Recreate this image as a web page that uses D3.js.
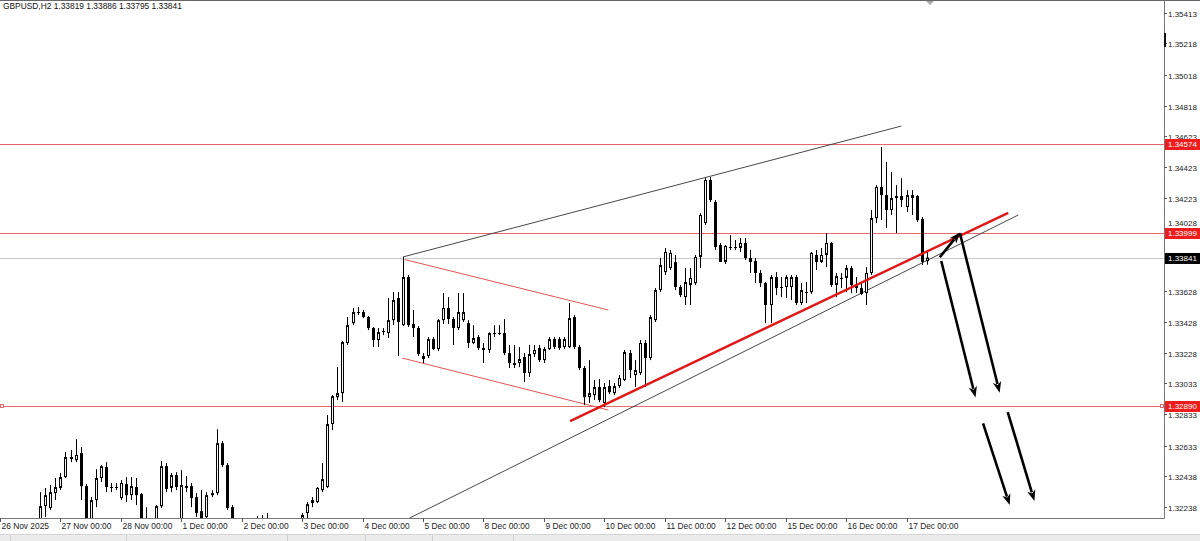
<!DOCTYPE html>
<html><head><meta charset="utf-8">
<script src="https://cdn.jsdelivr.net/npm/d3@7/dist/d3.min.js"></script>
<style>
html,body{margin:0;padding:0;background:#fff;overflow:hidden;}
svg{display:block;}
text{font-family:"Liberation Sans",Arial,sans-serif;font-size:8px;}
</style></head><body>
<svg id="c" width="1200" height="541"></svg>
<script>
// ---------- DATA ----------
const chartTitle = "GBPUSD,H2  1.33819 1.33886 1.33795 1.33841";

const opens = [1.32025,1.32051,1.32076,1.32038,1.32089,1.32063,1.32102,1.32115,1.32121,1.32243,
1.32231,1.32327,1.32360,1.32430,1.32559,1.32539,1.32585,1.32372,1.32128,1.32282,
1.32424,1.32494,1.32366,1.32360,1.32295,1.32385,1.32314,1.32366,1.32320,1.32121,
1.32089,1.32121,1.32243,1.32500,1.32360,1.32443,1.32121,1.32372,1.32372,1.32301,
1.32211,1.32173,1.32314,1.32327,1.32648,1.32507,1.32237,1.32121,1.32057,1.32025,
1.32076,1.32089,1.32102,1.32115,1.32089,1.32063,1.32089,1.32076,1.32102,1.32115,
1.32153,1.32199,1.32263,1.32269,1.32346,1.32366,1.32771,1.32944,1.32970,1.33292,
1.33420,1.33491,1.33491,1.33459,1.33388,1.33311,1.33362,1.33356,1.33439,1.33581,
1.33407,1.33716,1.33414,1.33388,1.33189,1.33208,1.33317,1.33253,1.33439,1.33517,
1.33446,1.33388,1.33439,1.33420,1.33292,1.33330,1.33260,1.33247,1.33356,1.33356,
1.33356,1.33227,1.33163,1.33163,1.33202,1.33099,1.33221,1.33260,1.33182,1.33253,
1.33317,1.33317,1.33266,1.33266,1.33459,1.33266,1.33131,1.32944,1.32957,1.33009,
1.32906,1.33015,1.32970,1.33015,1.33054,1.33227,1.33086,1.33099,1.33292,1.33195,
1.33439,1.33632,1.33748,1.33774,1.33812,1.33652,1.33587,1.33665,1.33677,1.33845,
1.34063,1.34340,1.34198,1.33922,1.33813,1.33909,1.33909,1.33903,1.33935,1.33838,
1.33819,1.33742,1.33677,1.33536,1.33716,1.33652,1.33652,1.33652,1.33716,1.33549,
1.33619,1.33619,1.33858,1.33813,1.33858,1.33935,1.33665,1.33710,1.33710,1.33774,
1.33665,1.33645,1.33613,1.33742,1.34095,1.34295,1.34243,1.34147,1.34224,1.34237,
1.34166,1.34243,1.34237,1.34089,1.33819];

const highs = [1.32089,1.32102,1.32115,1.32096,1.32128,1.32121,1.32140,1.32166,1.32333,1.32360,
1.32379,1.32424,1.32456,1.32591,1.32604,1.32674,1.32623,1.32385,1.32301,1.32481,
1.32507,1.32526,1.32392,1.32392,1.32411,1.32430,1.32430,1.32424,1.32327,1.32237,
1.32153,1.32250,1.32533,1.32520,1.32456,1.32462,1.32475,1.32436,1.32392,1.32327,
1.32346,1.32333,1.32346,1.32738,1.32661,1.32520,1.32250,1.32153,1.32121,1.32102,
1.32160,1.32179,1.32186,1.32199,1.32140,1.32128,1.32147,1.32140,1.32153,1.32160,
1.32199,1.32269,1.32301,1.32366,1.32520,1.32829,1.32957,1.33137,1.33305,1.33459,
1.33517,1.33523,1.33504,1.33465,1.33395,1.33388,1.33388,1.33581,1.33619,1.33619,
1.33845,1.33729,1.33504,1.33401,1.33227,1.33330,1.33330,1.33446,1.33613,1.33587,
1.33459,1.33613,1.33613,1.33439,1.33407,1.33343,1.33292,1.33362,1.33407,1.33407,
1.33446,1.33279,1.33279,1.33266,1.33227,1.33279,1.33279,1.33279,1.33266,1.33330,
1.33330,1.33330,1.33330,1.33549,1.33472,1.33279,1.33144,1.33182,1.33054,1.33060,
1.33035,1.33054,1.33035,1.33086,1.33247,1.33247,1.33182,1.33311,1.33311,1.33472,
1.33645,1.33838,1.33903,1.33890,1.33858,1.33665,1.33774,1.33774,1.33858,1.34127,
1.34352,1.34359,1.34211,1.33935,1.33922,1.33986,1.33954,1.33967,1.33967,1.33890,
1.33838,1.33761,1.33684,1.33729,1.33748,1.33716,1.33729,1.33729,1.33729,1.33677,
1.33684,1.33877,1.33890,1.33903,1.33999,1.33941,1.33742,1.33742,1.33793,1.33787,
1.33716,1.33677,1.33780,1.34147,1.34307,1.34552,1.34455,1.34391,1.34307,1.34352,
1.34275,1.34275,1.34243,1.34102,1.33886];

const lows = [1.31974,1.31993,1.32025,1.31986,1.32038,1.32018,1.32057,1.32076,1.32089,1.32173,
1.32218,1.32282,1.32346,1.32424,1.32526,1.32526,1.32282,1.32102,1.32102,1.32237,
1.32398,1.32333,1.32333,1.32346,1.32282,1.32269,1.32282,1.32250,1.32089,1.32057,
1.32057,1.32089,1.32231,1.32333,1.32333,1.32346,1.32102,1.32333,1.32237,1.32173,
1.32121,1.32153,1.32301,1.32314,1.32494,1.32218,1.32089,1.32025,1.31993,1.31974,
1.32025,1.32038,1.32051,1.32063,1.32025,1.32012,1.32038,1.32025,1.32051,1.32063,
1.32121,1.32166,1.32237,1.32263,1.32333,1.32360,1.32732,1.32925,1.32912,1.33279,
1.33407,1.33472,1.33452,1.33375,1.33266,1.33266,1.33343,1.33324,1.33407,1.33208,
1.33401,1.33395,1.33330,1.33208,1.33163,1.33195,1.33247,1.33240,1.33414,1.33414,
1.33279,1.33375,1.33427,1.33260,1.33285,1.33247,1.33163,1.33227,1.33330,1.33343,
1.33214,1.33131,1.33131,1.33137,1.33041,1.33073,1.33202,1.33170,1.33163,1.33247,
1.33253,1.33247,1.33253,1.33260,1.33253,1.33118,1.32893,1.32906,1.32925,1.32912,
1.32880,1.32963,1.32957,1.33002,1.33047,1.33067,1.33009,1.33086,1.33009,1.33182,
1.33427,1.33619,1.33729,1.33761,1.33632,1.33587,1.33536,1.33536,1.33665,1.33774,
1.34050,1.34198,1.33890,1.33813,1.33800,1.33890,1.33890,1.33877,1.33825,1.33742,
1.33678,1.33652,1.33420,1.33420,1.33600,1.33587,1.33581,1.33568,1.33536,1.33536,
1.33549,1.33607,1.33761,1.33806,1.33780,1.33652,1.33587,1.33645,1.33619,1.33613,
1.33613,1.33600,1.33536,1.33729,1.34063,1.34082,1.34031,1.34115,1.33999,1.34166,
1.34134,1.34115,1.34070,1.33793,1.33795];

const closes = [1.32051,1.32076,1.32038,1.32089,1.32063,1.32102,1.32115,1.32140,1.32243,1.32314,
1.32333,1.32366,1.32430,1.32559,1.32546,1.32572,1.32372,1.32140,1.32282,1.32424,
1.32500,1.32366,1.32360,1.32366,1.32392,1.32314,1.32372,1.32314,1.32121,1.32089,
1.32102,1.32243,1.32500,1.32353,1.32443,1.32366,1.32379,1.32360,1.32295,1.32199,
1.32140,1.32314,1.32327,1.32648,1.32507,1.32231,1.32121,1.32057,1.32025,1.32076,
1.32089,1.32102,1.32115,1.32089,1.32063,1.32089,1.32076,1.32102,1.32115,1.32153,
1.32186,1.32256,1.32282,1.32360,1.32417,1.32771,1.32950,1.32970,1.33298,1.33407,
1.33491,1.33484,1.33459,1.33388,1.33311,1.33362,1.33369,1.33439,1.33568,1.33427,
1.33716,1.33407,1.33388,1.33221,1.33208,1.33317,1.33253,1.33439,1.33517,1.33446,
1.33388,1.33491,1.33491,1.33292,1.33324,1.33260,1.33247,1.33356,1.33353,1.33359,
1.33227,1.33163,1.33150,1.33189,1.33099,1.33221,1.33247,1.33182,1.33253,1.33317,
1.33266,1.33260,1.33317,1.33452,1.33266,1.33131,1.32944,1.32970,1.33009,1.32925,
1.33009,1.32976,1.33015,1.33067,1.33234,1.33118,1.33118,1.33292,1.33195,1.33459,
1.33632,1.33793,1.33877,1.33871,1.33652,1.33600,1.33684,1.33710,1.33845,1.34115,
1.34340,1.34211,1.33909,1.33813,1.33916,1.33905,1.33903,1.33935,1.33838,1.33813,
1.33742,1.33677,1.33536,1.33716,1.33645,1.33645,1.33716,1.33716,1.33549,1.33632,
1.33615,1.33871,1.33813,1.33858,1.33935,1.33665,1.33722,1.33706,1.33774,1.33665,
1.33645,1.33607,1.33742,1.34095,1.34295,1.34243,1.34147,1.34224,1.34237,1.34211,
1.34243,1.34224,1.34082,1.33813,1.33841];

const dayTickBars = [0,12,24,36,48,60,72,84,96,108,120,132,144,156,168,180];
const dayTickLabels = ["26 Nov 2025","27 Nov 00:00","28 Nov 00:00","1 Dec 00:00","2 Dec 00:00","3 Dec 00:00",
  "4 Dec 00:00","5 Dec 00:00","8 Dec 00:00","9 Dec 00:00","10 Dec 00:00","11 Dec 00:00","12 Dec 00:00",
  "15 Dec 00:00","16 Dec 00:00","17 Dec 00:00"];

const priceTicks = [1.35413,1.35218,1.35018,1.34818,1.34623,1.34423,1.34223,1.34028,
  1.33628,1.33428,1.33228,1.33033,1.32833,1.32633,1.32438,1.32238];

const levelPrices = [1.34574, 1.33999, 1.32890];
const bidPrice = 1.33841;

// trend lines: [bar index, price]
const wedgeUpperLine = [[80.0, 1.33845], [179.0, 1.34687]];
const wedgeLowerLine = [[81.3, 1.32166], [202.2, 1.34115]];
const supportRedLine = [[113.2, 1.32790], [200.2, 1.34129]];
const channelTopLine = [[80.4, 1.33828], [120.8, 1.33504]];
const channelBottomLine = [[79.9, 1.33195], [120.8, 1.32861]];

// arrows: [[bar, price] start, [bar, price] tip]
const arrowPaths = [
  [[186.6, 1.33843], [190.6, 1.34003]],
  [[186.9, 1.33819], [193.7, 1.32942]],
  [[190.6, 1.33999], [198.5, 1.32972]],
  [[195.2, 1.32775], [200.5, 1.32250]],
  [[200.1, 1.32848], [205.4, 1.32276]]
];

// ---------- DRAW ----------
const svg = d3.select("#c");
const W = 1200, H = 541;
const plotR = 1164, plotB = 518;

const x = d3.scaleLinear().domain([0, 180]).range([0, 906.5]);
const y = d3.scaleLinear().domain([1.32167, 1.35497]).range([plotB, 0]);

svg.append("rect").attr("width", W).attr("height", H).attr("fill", "#fff");

svg.append("defs").append("clipPath").attr("id", "plot")
  .append("rect").attr("x", 0).attr("y", 0).attr("width", plotR).attr("height", plotB);

const g = svg.append("g").attr("clip-path", "url(#plot)");

// horizontal levels
g.append("line").attr("x1", 0).attr("x2", plotR)
  .attr("y1", Math.round(y(bidPrice)) + 0.5).attr("y2", Math.round(y(bidPrice)) + 0.5)
  .attr("stroke", "#c8c8c8").attr("stroke-width", 1);
levelPrices.forEach(p => {
  const yy = Math.round(y(p)) + 0.5;
  g.append("line").attr("x1", 0).attr("x2", plotR).attr("y1", yy).attr("y2", yy)
    .attr("stroke", "#e36a6a").attr("stroke-width", 1);
});
// small markers on the lowest level
{
  const yy = Math.round(y(levelPrices[2]));
  g.append("rect").attr("x", 0.5).attr("y", yy - 1.5).attr("width", 3).attr("height", 3)
    .attr("fill", "#fff").attr("stroke", "#e36a6a");
  g.append("rect").attr("x", plotR - 3.5).attr("y", yy - 1.5).attr("width", 3).attr("height", 3)
    .attr("fill", "#fff").attr("stroke", "#e36a6a");
}

// trend lines
function seg(pts, color, w) {
  g.append("line")
    .attr("x1", x(pts[0][0])).attr("y1", y(pts[0][1]))
    .attr("x2", x(pts[1][0])).attr("y2", y(pts[1][1]))
    .attr("stroke", color).attr("stroke-width", w);
}
seg(channelTopLine, "#e05555", 1);
seg(channelBottomLine, "#e05555", 1);
seg(wedgeUpperLine, "#333", 0.9);
seg(wedgeLowerLine, "#333", 0.9);

// candles
const candles = d3.range(opens.length).map(i => ({
  i, o: opens[i], h: highs[i], l: lows[i], c: closes[i]
}));
const cg = g.append("g");
candles.forEach(d => {
  const px = Math.round(x(d.i));
  cg.append("line").attr("x1", px + 0.5).attr("x2", px + 0.5)
    .attr("y1", y(d.h)).attr("y2", y(d.l)).attr("stroke", "#000").attr("stroke-width", 1);
  const top = y(Math.max(d.o, d.c)), bot = y(Math.min(d.o, d.c));
  const hgt = bot - top;
  if (hgt < 1.2) {
    cg.append("line").attr("x1", px - 1).attr("x2", px + 2)
      .attr("y1", Math.round(top) + 0.5).attr("y2", Math.round(top) + 0.5)
      .attr("stroke", "#000");
  } else if (d.c >= d.o) {
    cg.append("rect").attr("x", px - 0.5).attr("y", top + 0.5)
      .attr("width", 2).attr("height", Math.max(hgt - 1, 0.5))
      .attr("fill", "#f4f4f4").attr("stroke", "#000").attr("stroke-width", 1);
  } else {
    cg.append("rect").attr("x", px - 1).attr("y", top)
      .attr("width", 3).attr("height", hgt).attr("fill", "#000");
  }
});

// thick red support line (drawn above candles)
seg(supportRedLine, "#e01818", 2.4);

// arrows
arrowPaths.forEach(a => {
  const x1 = x(a[0][0]), y1 = y(a[0][1]), x2 = x(a[1][0]), y2 = y(a[1][1]);
  const dx = x2 - x1, dy = y2 - y1, len = Math.hypot(dx, dy);
  const ux = dx / len, uy = dy / len;
  const hl = 11, hw = 4.2;
  const bx = x2 - ux * hl, by = y2 - uy * hl;
  g.append("line").attr("x1", x1).attr("y1", y1).attr("x2", bx + ux * 2).attr("y2", by + uy * 2)
    .attr("stroke", "#000").attr("stroke-width", 2.6);
  g.append("path")
    .attr("d", `M${x2},${y2}L${bx - uy * hw},${by + ux * hw}L${bx + ux*3},${by + uy*3}L${bx + uy * hw},${by - ux * hw}Z`)
    .attr("fill", "#000");
});

// frame & axes
svg.append("line").attr("x1", 0).attr("x2", W).attr("y1", 0.5).attr("y2", 0.5).attr("stroke", "#666");
svg.append("line").attr("x1", plotR + 0.5).attr("x2", plotR + 0.5).attr("y1", 0).attr("y2", plotB + 0.5)
  .attr("stroke", "#777");
svg.append("line").attr("x1", 0).attr("x2", plotR + 0.5).attr("y1", plotB + 0.5).attr("y2", plotB + 0.5)
  .attr("stroke", "#777");

// shift marker at top
svg.append("path").attr("d", "M926,1L934,1L930,5Z").attr("fill", "#aaa");

// price axis ticks & labels
const boxTop = Math.round(y(levelPrices[1])) - 5;
priceTicks.forEach(p => {
  const yy = Math.round(y(p)) + 0.5;
  svg.append("line").attr("x1", plotR).attr("x2", plotR + 3).attr("y1", yy).attr("y2", yy).attr("stroke", "#555");
  let ty = yy + 3;
  if (ty + 2 > boxTop && yy - 6 < boxTop + 11) ty = boxTop - 2; // keep label above the level box
  svg.append("text").attr("x", plotR + 4).attr("y", ty).attr("fill", "#222").text(p.toFixed(5));
});
svg.append("rect").attr("x", plotR).attr("y", 33).attr("width", 2).attr("height", 14).attr("fill", "#111");

// level labels
function priceBox(p, fill) {
  const yy = Math.round(y(p));
  svg.append("rect").attr("x", plotR + 1).attr("y", yy - 5).attr("width", W - plotR - 1).attr("height", 11)
    .attr("fill", fill);
  svg.append("text").attr("x", plotR + 4).attr("y", yy + 3).attr("fill", "#fff").text(p.toFixed(5));
}
levelPrices.forEach(p => priceBox(p, "#ee1c1c"));
priceBox(bidPrice, "#000");

// time axis
dayTickBars.forEach((b, k) => {
  const xx = Math.round(x(b)) + 0.5;
  svg.append("line").attr("x1", xx).attr("x2", xx).attr("y1", plotB).attr("y2", plotB + 4).attr("stroke", "#555");
  svg.append("text").attr("x", xx + 1).attr("y", 529).attr("fill", "#222")
    .style("font-size", "8.4px").text(dayTickLabels[k]);
});

// title
svg.append("text").attr("x", 3).attr("y", 9).attr("fill", "#111").style("font-size", "8.4px").text(chartTitle);

// bottom tab strip
svg.append("rect").attr("x", 0).attr("y", 534).attr("width", W).attr("height", 7).attr("fill", "#ececec");
svg.append("line").attr("x1", 0).attr("x2", W).attr("y1", 534.5).attr("y2", 534.5).attr("stroke", "#d4d4d4");
[10, 126, 287, 365, 432, 513].forEach(sx => {
  svg.append("line").attr("x1", sx + 0.5).attr("x2", sx + 0.5).attr("y1", 535).attr("y2", 541).attr("stroke", "#d0d0d0");
});
</script>
</body></html>
